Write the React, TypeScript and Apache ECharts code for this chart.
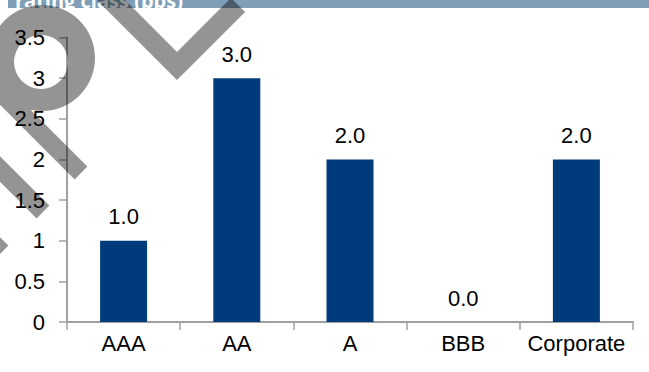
import React, { useEffect, useRef } from "react";
import * as echarts from "echarts";

const categories = ["AAA", "AA", "A", "BBB", "Corporate"];
const values = [1.0, 3.0, 2.0, 0.0, 2.0];
const yMin = 0;
const yMax = 3.5;
const yInterval = 0.5;
const headerTitle = "rating class (bps)";

const WATERMARK_D =
  "M 95 58 A 53 53 0 1 1 -11 58 A 53 53 0 1 1 95 58 Z " +
  "M 68 62 A 27 27 0 1 0 14 62 A 27 27 0 1 0 68 62 Z " +
  "M -13.6 65.6 L 87.4 166.6 L 74.6 179.4 L -26.4 78.4 Z " +
  "M -13.6 142.6 L 49.4 205.6 L 36.6 218.4 L -26.4 155.4 Z " +
  "M -33.6 203.6 L 8.4 245.6 L -4.4 258.4 L -46.4 216.4 Z " +
  "M 92.9 -3.9 L 177 80.1 L 245.1 12.1 L 230.9 -2.1 L 177 51.9 L 107.1 -18.1 Z";

let registered = false;
function ensureShape() {
  if (registered) return;
  echarts.graphic.registerShape(
    "wmark",
    echarts.graphic.extendPath(WATERMARK_D, {}) as any
  );
  registered = true;
}

export default function App() {
  const ref = useRef<HTMLDivElement>(null);
  useEffect(() => {
    if (!ref.current) return;
    ensureShape();
    const chart = echarts.init(ref.current, undefined, { renderer: "svg" });
    const font = "Liberation Sans, Arial, sans-serif";
    chart.setOption({
      animation: false,
      backgroundColor: "#ffffff",
      grid: { left: 67, right: 16, top: 37.5, bottom: 50 },
      xAxis: {
        type: "category",
        data: categories,
        axisLine: { lineStyle: { color: "#a0a0a0", width: 2 } },
        axisTick: { show: true, length: 8, lineStyle: { color: "#a0a0a0", width: 1.5 } },
        axisLabel: {
          color: "#000",
          fontSize: 22,
          fontFamily: font,
          margin: 10,
          interval: 0,
          hideOverlap: false,
        },
      },
      yAxis: {
        type: "value",
        min: yMin,
        max: yMax,
        interval: yInterval,
        splitLine: { show: false },
        axisLine: { show: true, lineStyle: { color: "#a0a0a0", width: 2 } },
        axisTick: { show: true, length: 8, lineStyle: { color: "#a0a0a0", width: 1.5 } },
        axisLabel: { color: "#000", fontSize: 22, fontFamily: font, margin: 22 },
      },
      series: [
        {
          type: "bar",
          data: values,
          barWidth: 47,
          itemStyle: { color: "#003b7b" },
          label: {
            show: true,
            position: "top",
            distance: 13,
            color: "#000",
            fontSize: 22,
            fontFamily: font,
            formatter: (p: any) => Number(p.value).toFixed(1),
          },
        },
      ],
      graphic: [
        {
          type: "rect",
          z: 50,
          shape: { x: 8, y: 0, width: 641, height: 8 },
          style: { fill: "#809fb6" },
        },
        {
          type: "text",
          z: 51,
          x: 15,
          y: 0,
          style: {
            text: headerTitle,
            fill: "#ffffff",
            font: "bold 20px 'Open Sans', sans-serif",
            verticalAlign: "middle",
          },
        },
        {
          type: "rect",
          z: 52,
          shape: { x: 8, y: 8, width: 300, height: 12 },
          style: { fill: "#ffffff" },
        },
        {
          type: "wmark",
          z: 100,
          x: 0,
          y: 0,
          style: { fill: "rgba(0,0,0,0.42)" },
        },
      ],
    });
    return () => chart.dispose();
  }, []);
  return (
    <div
      ref={ref}
      style={{ position: "absolute", left: 0, top: 0, width: 649, height: 372 }}
    />
  );
}
